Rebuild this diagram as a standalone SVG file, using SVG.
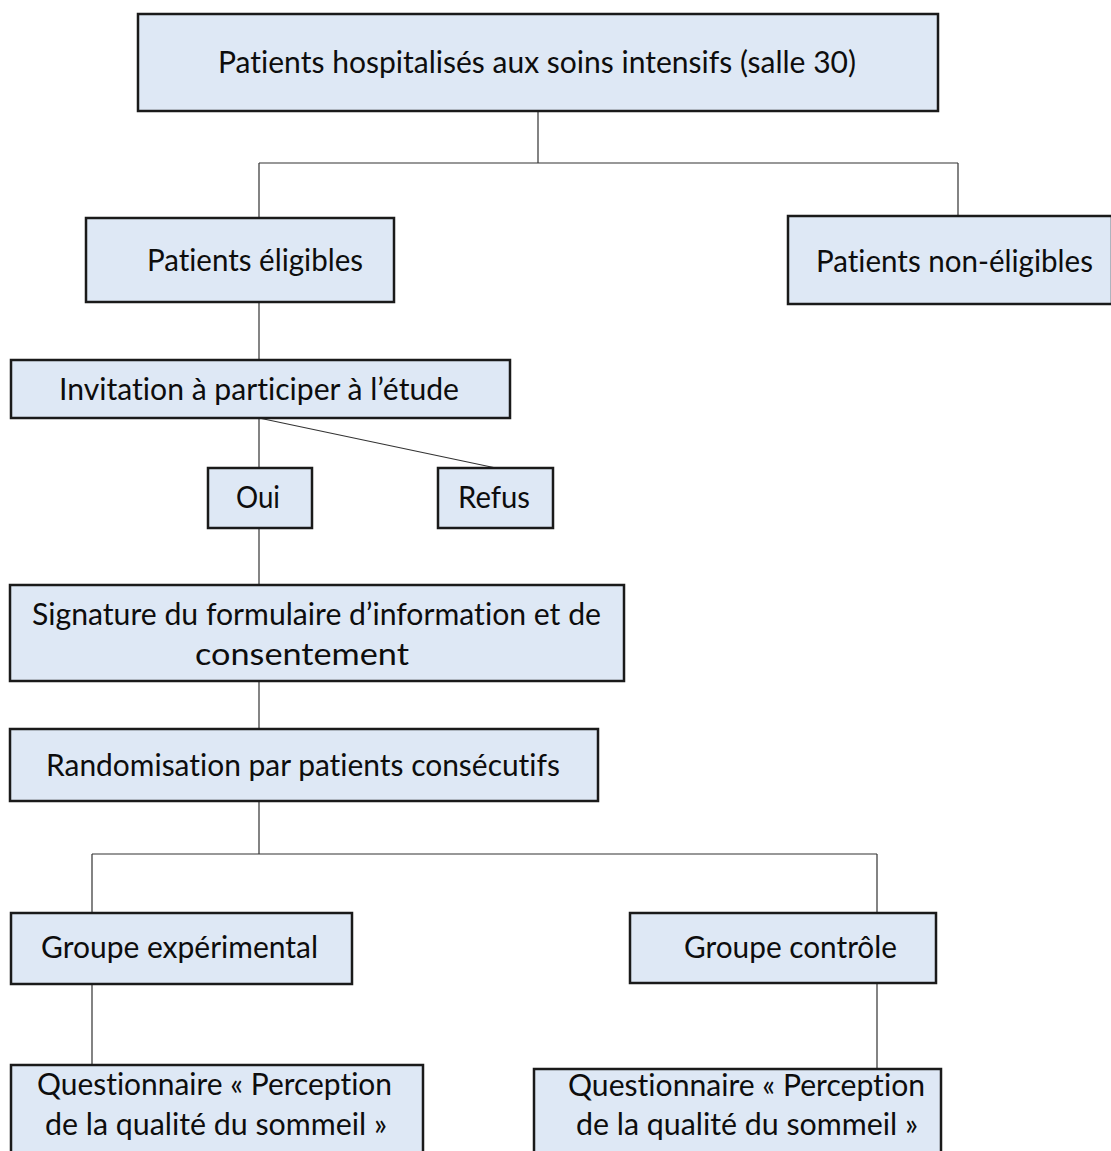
<svg xmlns="http://www.w3.org/2000/svg" width="1111" height="1151" viewBox="0 0 1111 1151">
<style>
.box{fill:#DEE8F5;stroke:#1a1a1a;stroke-width:2.5}
.t{font-family:Lato,"Open Sans","Liberation Sans",sans-serif;font-size:30px;fill:#0d0d0d;font-variant-ligatures:none;font-feature-settings:"liga" 0,"dlig" 0}
.c{fill:none;stroke:#333;stroke-width:1.2}
</style>
<rect width="1111" height="1151" fill="#fff"/>
<g id="connectors">
<path class="c" d="M538 111V163M259 163H958M259 163V218M958 163V216"/>
<path class="c" d="M259 302V360"/>
<path class="c" d="M259 418V468M259 418L496 468"/>
<path class="c" d="M259 528V585"/>
<path class="c" d="M259 681V729"/>
<path class="c" d="M259 801V854M92 854H877M92 854V913M877 854V913"/>
<path class="c" d="M92 984V1065M877 983V1069"/>
</g>
<g id="n-top"><rect class="box" x="138" y="14" width="800" height="97"/><text class="t" x="218" y="73" textLength="638" lengthAdjust="spacingAndGlyphs">Patients hospitalisés aux soins intensifs (salle 30)</text></g>
<g id="n-elig"><rect class="box" x="86" y="218" width="308" height="84"/><text class="t" x="147" y="271" textLength="216" lengthAdjust="spacingAndGlyphs">Patients éligibles</text></g>
<g id="n-nonelig"><rect class="box" x="788" y="216" width="324" height="88"/><text class="t" x="816" y="272" textLength="277" lengthAdjust="spacingAndGlyphs">Patients non-éligibles</text></g>
<g id="n-invit"><rect class="box" x="11" y="360" width="499" height="58"/><text class="t" x="59" y="400" textLength="400" lengthAdjust="spacingAndGlyphs">Invitation à participer à l’étude</text></g>
<g id="n-oui"><rect class="box" x="208" y="468" width="104" height="60"/><text class="t" x="236" y="508" textLength="44" lengthAdjust="spacingAndGlyphs">Oui</text></g>
<g id="n-refus"><rect class="box" x="438" y="468" width="115" height="60"/><text class="t" x="458" y="508" textLength="72" lengthAdjust="spacingAndGlyphs">Refus</text></g>
<g id="n-sign"><rect class="box" x="10" y="585" width="614" height="96"/><text class="t" x="32" y="625" textLength="569" lengthAdjust="spacingAndGlyphs">Signature du formulaire d’information et de</text><text class="t" x="195" y="665" textLength="214" lengthAdjust="spacingAndGlyphs">consentement</text></g>
<g id="n-random"><rect class="box" x="10" y="729" width="588" height="72"/><text class="t" x="46" y="776" textLength="514" lengthAdjust="spacingAndGlyphs">Randomisation par patients consécutifs</text></g>
<g id="n-exp"><rect class="box" x="11" y="913" width="341" height="71"/><text class="t" x="41" y="958" textLength="277" lengthAdjust="spacingAndGlyphs">Groupe expérimental</text></g>
<g id="n-ctrl"><rect class="box" x="630" y="913" width="306" height="70"/><text class="t" x="684" y="958" textLength="213" lengthAdjust="spacingAndGlyphs">Groupe contrôle</text></g>
<g id="n-q1"><rect class="box" x="11" y="1065" width="412" height="100"/><text class="t" x="37" y="1095" textLength="355" lengthAdjust="spacingAndGlyphs">Questionnaire « Perception</text><text class="t" x="45" y="1135" textLength="342" lengthAdjust="spacingAndGlyphs">de la qualité du sommeil »</text></g>
<g id="n-q2"><rect class="box" x="534" y="1069" width="407" height="100"/><text class="t" x="568" y="1096" textLength="357" lengthAdjust="spacingAndGlyphs">Questionnaire « Perception</text><text class="t" x="576" y="1135" textLength="342" lengthAdjust="spacingAndGlyphs">de la qualité du sommeil »</text></g>
</svg>
